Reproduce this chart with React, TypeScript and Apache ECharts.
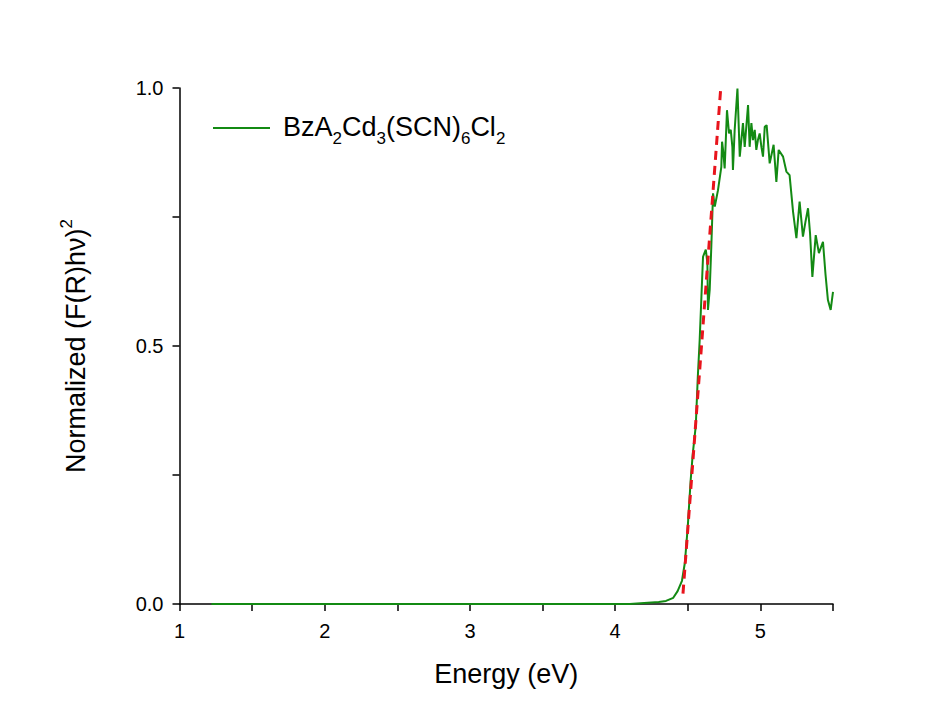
import React, { useEffect, useRef } from "react";
import * as echarts from "echarts";

const energy = [
  1.22, 1.5, 2.0, 2.5, 3.0, 3.5, 4.0, 4.1, 4.2, 4.3, 4.35, 4.4, 4.43, 4.46, 4.48, 4.5, 4.52, 4.534,
  4.555, 4.569, 4.582, 4.594, 4.605, 4.624, 4.635, 4.639, 4.651, 4.662, 4.674, 4.686, 4.708, 4.731,
  4.736, 4.743, 4.754, 4.77, 4.784, 4.796, 4.807, 4.811, 4.823, 4.842, 4.858, 4.88, 4.892, 4.915,
  4.926, 4.938, 4.949, 4.961, 4.972, 4.983, 4.995, 5.007, 5.018, 5.03, 5.043, 5.064, 5.091, 5.11,
  5.126, 5.156, 5.179, 5.201, 5.225, 5.248, 5.27, 5.293, 5.31, 5.328, 5.342, 5.358, 5.381, 5.403,
  5.431, 5.448, 5.465, 5.484, 5.5,
];
const normalized = [
  0, 0, 0, 0, 0, 0, 0, 0, 0.002, 0.004, 0.006, 0.012, 0.025, 0.045, 0.08, 0.15, 0.24, 0.29,
  0.345, 0.44, 0.512, 0.596, 0.673, 0.687, 0.661, 0.57, 0.609, 0.692, 0.796, 0.77, 0.802, 0.847,
  0.896, 0.88, 0.844, 0.957, 0.912, 0.919, 0.886, 0.841, 0.919, 0.999, 0.867, 0.932, 0.886, 0.967,
  0.886, 0.932, 0.899, 0.919, 0.88, 0.899, 0.912, 0.886, 0.867, 0.925, 0.928, 0.854, 0.89, 0.818,
  0.88, 0.867, 0.838, 0.831, 0.76, 0.709, 0.78, 0.712, 0.74, 0.767, 0.718, 0.634, 0.715, 0.68,
  0.702, 0.64, 0.589, 0.57, 0.605,
];
const fitEnergy = [4.467, 4.727];
const fitValue = [0.02, 1.0];

const xTickLabels = ["1", "2", "3", "4", "5"];
const yTickLabels = ["0.0", "0.5", "1.0"];
const seriesName = "BzA2Cd3(SCN)6Cl2";

const FONT = "'Liberation Sans', Arial, sans-serif";

export default function App() {
  const ref = useRef<HTMLDivElement>(null);
  useEffect(() => {
    if (!ref.current) return;
    const chart = echarts.init(ref.current, undefined, { renderer: "svg" });
    const curve = energy.map((e, i) => [e, normalized[i]]);
    const fit = fitEnergy.map((e, i) => [e, fitValue[i]]);
    chart.setOption({
      animation: false,
      backgroundColor: "#ffffff",
      textStyle: { fontFamily: FONT },
      grid: { left: 179.5, right: 119, top: 88, bottom: 111, containLabel: false },
      legend: {
        data: [{ name: seriesName, icon: "rect" }],
        left: 213,
        top: 113,
        padding: 0,
        itemWidth: 57,
        itemHeight: 2,
        selectedMode: false,
        itemStyle: { color: "#138a13" },
        formatter: () =>
          "{f|BzA}{s|2}{n|Cd}{s|3}{n|(SCN)}{s|6}{n|Cl}{s|2}",
        textStyle: {
          rich: {
            f: { fontSize: 27, lineHeight: 30, verticalAlign: "top", padding: [0, 0, 0, 8], color: "#000", fontFamily: FONT },
            n: { fontSize: 27, lineHeight: 30, verticalAlign: "top", color: "#000", fontFamily: FONT },
            s: { fontSize: 17, lineHeight: 17, verticalAlign: "top", padding: [17, 0, 0, 0], color: "#000", fontFamily: FONT },
          },
        },
      },
      xAxis: {
        type: "value",
        min: 1,
        max: 5.5,
        interval: 0.5,
        name: "Energy (eV)",
        nameLocation: "middle",
        nameGap: 56,
        nameTextStyle: { fontSize: 27, color: "#000", fontFamily: FONT },
        axisLine: { onZero: false, lineStyle: { color: "#000", width: 1.5 } },
        axisTick: { inside: false, length: 7, lineStyle: { color: "#000", width: 1.5 } },
        axisLabel: {
          margin: 17,
          fontSize: 20,
          color: "#000",
          fontFamily: FONT,
          formatter: (v: number) => {
            const s = String(v);
            return xTickLabels.includes(s) ? s : "";
          },
        },
        splitLine: { show: false },
      },
      yAxis: {
        type: "value",
        min: 0,
        max: 1,
        interval: 0.25,
        name: "{n|Normalized (F(R)hν)}{p|2}",
        nameLocation: "middle",
        nameGap: 90,
        nameTextStyle: {
          color: "#000",
          rich: {
            n: { fontSize: 27, lineHeight: 32, verticalAlign: "bottom", padding: [8, 0, 0, 0], color: "#000", fontFamily: FONT },
            p: { fontSize: 17, lineHeight: 17, verticalAlign: "top", color: "#000", fontFamily: FONT },
          },
        },
        axisLine: { onZero: false, lineStyle: { color: "#000", width: 1.5 } },
        axisTick: { inside: false, length: 7, lineStyle: { color: "#000", width: 1.5 } },
        axisLabel: {
          margin: 16,
          fontSize: 20,
          color: "#000",
          fontFamily: FONT,
          formatter: (v: number) => {
            const s = v.toFixed(1);
            return Math.abs(v * 2 - Math.round(v * 2)) < 1e-9 && yTickLabels.includes(s) ? s : "";
          },
        },
        splitLine: { show: false },
      },
      series: [
        {
          name: seriesName,
          type: "line",
          data: curve,
          symbol: "none",
          showSymbol: false,
          lineStyle: { color: "#138a13", width: 2 },
          itemStyle: { color: "#138a13" },
          z: 3,
        },
        {
          name: "fit",
          type: "line",
          data: fit,
          symbol: "none",
          showSymbol: false,
          lineStyle: { color: "#e8141c", width: 3, type: [9, 6] },
          z: 4,
        },
      ],
    });
    return () => chart.dispose();
  }, []);
  return (
    <div
      ref={ref}
      style={{ position: "fixed", left: 0, top: 0, width: 952, height: 715, background: "#fff" }}
    />
  );
}
